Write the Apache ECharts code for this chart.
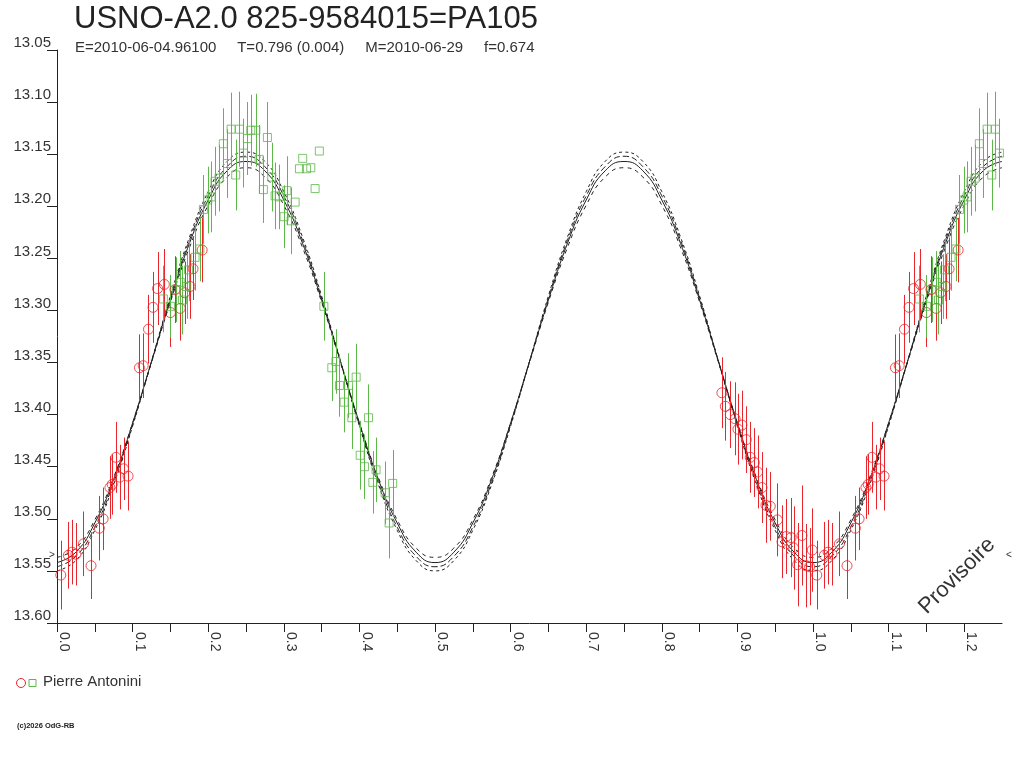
<!DOCTYPE html>
<html>
<head>
<meta charset="utf-8">
<title>USNO-A2.0 825-9584015=PA105</title>
<script src="https://cdn.jsdelivr.net/npm/echarts@6/dist/echarts.min.js"></script>
<style>
    html, body { margin: 0; padding: 0; background: #fff; }
    #chart { width: 1024px; height: 768px; }
</style>
</head>
<body>
<div id="chart"></div>
<script>
/* texts */
var titleText = 'USNO-A2.0 825-9584015=PA105';
var subText = 'E=2010-06-04.96100     T=0.796 (0.004)     M=2010-06-29     f=0.674';
var observer = 'Pierre Antonini';
var copyText = '(c)2026 OdG-RB';
var stampText = 'Provisoire';
var markMag = 13.535;

/* red circles: phase, magnitude, error */
var redPhase = [0.005, 0.015, 0.020, 0.025, 0.035, 0.045, 0.056, 0.061, 0.070, 0.073,
    0.078, 0.083, 0.088, 0.094, 0.109, 0.114, 0.121, 0.127, 0.133, 0.142,
    0.150, 0.156, 0.163, 0.169, 0.176, 0.180, 0.192,
    0.8795, 0.884, 0.8906, 0.897, 0.9007, 0.906, 0.9117, 0.917, 0.9223, 0.9267,
    0.9325, 0.9378, 0.9435, 0.953, 0.959, 0.9647, 0.971, 0.9744, 0.9797, 0.9854,
    0.991, 0.9955, 0.999];
var redMag = [13.554, 13.535, 13.532, 13.534, 13.524, 13.545, 13.509, 13.500, 13.470, 13.467,
    13.441, 13.460, 13.452, 13.459, 13.355, 13.353, 13.318, 13.297, 13.279, 13.275,
    13.302, 13.280, 13.298, 13.283, 13.277, 13.260, 13.242,
    13.379, 13.392, 13.400, 13.404, 13.414, 13.410, 13.424, 13.441, 13.446, 13.455,
    13.470, 13.487, 13.488, 13.501, 13.522, 13.517, 13.518, 13.528, 13.544, 13.516,
    13.545, 13.546, 13.530];
var redErr = [0.033, 0.032, 0.031, 0.030, 0.031, 0.032, 0.031, 0.030, 0.030, 0.029,
    0.034, 0.031, 0.030, 0.033, 0.032, 0.031, 0.033, 0.034, 0.035, 0.034,
    0.033, 0.032, 0.031, 0.030, 0.031, 0.030, 0.031,
    0.034, 0.033, 0.032, 0.035, 0.034, 0.033, 0.032, 0.034, 0.033, 0.035,
    0.034, 0.036, 0.033, 0.035, 0.035, 0.036, 0.038, 0.040, 0.040, 0.048,
    0.040, 0.037, 0.040];

/* green squares: phase, magnitude, error (0 = no bar) */
var greenPhase = [0.1407, 0.150, 0.1575, 0.163, 0.166, 0.1716, 0.174, 0.1826, 0.189, 0.1937,
    0.1994, 0.2038, 0.209, 0.2144, 0.220, 0.2254, 0.2303, 0.2364, 0.2413, 0.2466,
    0.2519, 0.2563, 0.263, 0.2673, 0.273, 0.2783, 0.284, 0.2885, 0.294, 0.3004,
    0.304, 0.3097, 0.315, 0.3207, 0.325, 0.330, 0.3357, 0.3414, 0.347, 0.353,
    0.3635, 0.369, 0.3736, 0.3798, 0.3855, 0.390, 0.3957, 0.401, 0.4067, 0.412,
    0.4178, 0.422, 0.434, 0.4393, 0.444];
var greenMag = [13.289, 13.296, 13.280, 13.273, 13.290, 13.277, 13.261, 13.249, 13.241, 13.203,
    13.194, 13.191, 13.176, 13.173, 13.140, 13.159, 13.126, 13.170, 13.126, 13.149,
    13.135, 13.127, 13.127, 13.155, 13.184, 13.134, 13.172, 13.190, 13.191, 13.210,
    13.185, 13.214, 13.196, 13.164, 13.154, 13.164, 13.163, 13.183, 13.147, 13.296,
    13.355, 13.349, 13.372, 13.388, 13.372, 13.403, 13.364, 13.439, 13.450, 13.403,
    13.465, 13.453, 13.475, 13.504, 13.466];
var greenErr = [0.032, 0.030, 0.031, 0.030, 0.033, 0.031, 0.030, 0.032, 0.031, 0.033,
    0.032, 0.034, 0.033, 0.032, 0.034, 0.033, 0.035, 0.034, 0.036, 0.033,
    0.035, 0.034, 0.035, 0.033, 0.032, 0.034, 0.033, 0.032, 0.031, 0.030,
    0.033, 0.032, 0, 0, 0, 0, 0, 0, 0, 0.033,
    0.032, 0.031, 0.030, 0.029, 0.031, 0.030, 0.032, 0.033, 0.031, 0.032,
    0.030, 0.031, 0.030, 0.034, 0.032];

/* fitted light curve and its envelopes, read every 0.025 in phase */
var curvePhase = [0.000, 0.025, 0.050, 0.075, 0.100, 0.125, 0.150, 0.175, 0.200, 0.225,
    0.250, 0.275, 0.300, 0.325, 0.350, 0.375, 0.400, 0.425, 0.450, 0.475,
    0.500, 0.525, 0.550, 0.575, 0.600, 0.625, 0.650, 0.675, 0.700, 0.725,
    0.750, 0.775, 0.800, 0.825, 0.850, 0.875, 0.900, 0.925, 0.950, 0.975,
    1.000, 1.025, 1.050, 1.075, 1.100, 1.125, 1.150, 1.175, 1.200, 1.225, 1.250];
var curveOuter = [13.550, 13.540, 13.511, 13.467, 13.411, 13.349, 13.286, 13.230, 13.186, 13.157,
    13.148, 13.157, 13.186, 13.230, 13.286, 13.349, 13.411, 13.467, 13.511, 13.540,
    13.550, 13.540, 13.511, 13.467, 13.411, 13.349, 13.286, 13.230, 13.186, 13.157,
    13.148, 13.157, 13.186, 13.230, 13.286, 13.349, 13.411, 13.467, 13.511, 13.540,
    13.550, 13.540, 13.511, 13.467, 13.411, 13.349, 13.286, 13.230, 13.186, 13.157, 13.148];
var curveUpper = [13.546, 13.536, 13.508, 13.465, 13.410, 13.349, 13.288, 13.233, 13.190, 13.162,
    13.152, 13.162, 13.190, 13.233, 13.288, 13.349, 13.410, 13.465, 13.508, 13.536,
    13.546, 13.536, 13.508, 13.465, 13.410, 13.349, 13.288, 13.233, 13.190, 13.162,
    13.152, 13.162, 13.190, 13.233, 13.288, 13.349, 13.410, 13.465, 13.508, 13.536,
    13.546, 13.536, 13.508, 13.465, 13.410, 13.349, 13.288, 13.233, 13.190, 13.162, 13.152];
var curveFit = [13.542, 13.532, 13.504, 13.462, 13.408, 13.349, 13.290, 13.236, 13.194, 13.166,
    13.157, 13.166, 13.194, 13.236, 13.290, 13.349, 13.408, 13.462, 13.504, 13.532,
    13.542, 13.532, 13.504, 13.462, 13.408, 13.349, 13.290, 13.236, 13.194, 13.166,
    13.157, 13.166, 13.194, 13.236, 13.290, 13.349, 13.408, 13.462, 13.504, 13.532,
    13.542, 13.532, 13.504, 13.462, 13.408, 13.349, 13.290, 13.236, 13.194, 13.166, 13.157];
var curveInner = [13.537, 13.528, 13.501, 13.460, 13.408, 13.350, 13.292, 13.240, 13.199, 13.172,
    13.163, 13.172, 13.199, 13.240, 13.292, 13.350, 13.408, 13.460, 13.501, 13.528,
    13.537, 13.528, 13.501, 13.460, 13.408, 13.350, 13.292, 13.240, 13.199, 13.172,
    13.163, 13.172, 13.199, 13.240, 13.292, 13.350, 13.408, 13.460, 13.501, 13.528,
    13.537, 13.528, 13.501, 13.460, 13.408, 13.350, 13.292, 13.240, 13.199, 13.172, 13.163];

var RED = '#e8262b';
var GREEN = '#5cb847';
var INK = '#222222';
var FONT = '"Liberation Sans", Arial, sans-serif';
var X_MAX = 1.25;

//phases below 0.25 are shown again one cycle later
function buildPoints(phase, mag, err) {
    var out = [];
    for (var i = 0; i < phase.length; i++) {
        out.push([phase[i], mag[i], err[i]]);
        if (phase[i] + 1 <= X_MAX) {
            out.push([phase[i] + 1, mag[i], err[i]]);
        }
    }
    return out;
}

function zipCurve(mag) {
    var out = [];
    for (var i = 0; i < curvePhase.length; i++) {
        out.push([curvePhase[i], mag[i]]);
    }
    return out;
}

function errorBars(name, points, color) {
    return {
        name: name,
        type: 'custom',
        clip: true,
        z: 3,
        data: points,
        renderItem: function (params, api) {
            var e = api.value(2);
            if (!e) {
                return;
            }
            var p1 = api.coord([api.value(0), api.value(1) - e]);
            var p2 = api.coord([api.value(0), api.value(1) + e]);
            var x = Math.round(p1[0]) + 0.5;
            return {
                type: 'line',
                shape: {x1: x, y1: p1[1], x2: x, y2: p2[1]},
                style: {stroke: color, lineWidth: 1}
            };
        }
    };
}

function curveLine(mag, dash) {
    return {
        type: 'line',
        data: zipCurve(mag),
        smooth: true,
        showSymbol: false,
        silent: true,
        z: 2,
        lineStyle: {color: INK, width: 1, type: dash}
    };
}

var redPoints = buildPoints(redPhase, redMag, redErr);
var greenPoints = buildPoints(greenPhase, greenMag, greenErr);

var chart = echarts.init(document.getElementById('chart'));
var option = {
    animation: false,
    backgroundColor: '#ffffff',
    textStyle: {fontFamily: FONT},
    grid: {left: 57, right: 22, top: 50, bottom: 145},
    xAxis: {
        type: 'value',
        min: 0,
        max: X_MAX,
        interval: 0.05,
        splitLine: {show: false},
        axisLine: {onZero: false, lineStyle: {color: INK, width: 1}},
        axisTick: {length: 9, lineStyle: {color: INK}},
        axisLabel: {
            rotate: -90,
            margin: 9,
            verticalAlign: 'bottom',
            fontSize: 14,
            color: '#333',
            fontFamily: FONT,
            showMaxLabel: false,
            formatter: function (v) {
                var k = Math.round(v * 100);
                return k % 10 === 0 ? (k / 100).toFixed(1) : '';
            }
        }
    },
    yAxis: {
        type: 'value',
        inverse: true,
        min: 13.05,
        max: 13.60,
        interval: 0.05,
        splitLine: {show: false},
        axisLine: {show: true, onZero: false, lineStyle: {color: INK, width: 1}},
        axisTick: {show: true, length: 10, lineStyle: {color: INK}},
        axisLabel: {
            margin: 6,
            verticalAlign: 'bottom',
            lineHeight: 14,
            fontSize: 15,
            color: '#333',
            fontFamily: FONT,
            formatter: function (v) { return v.toFixed(2); }
        }
    },
    series: [
        curveLine(curveOuter, [3, 3]),
        curveLine(curveUpper, [6, 3]),
        curveLine(curveFit, 'solid'),
        curveLine(curveInner, [4, 4]),
        errorBars('redErr', redPoints, RED),
        errorBars('greenErr', greenPoints, GREEN),
        {
            name: observer,
            type: 'scatter',
            data: redPoints,
            symbol: 'circle',
            symbolSize: 10,
            z: 4,
            itemStyle: {color: 'rgba(0,0,0,0)', borderColor: RED, borderWidth: 1}
        },
        {
            name: observer + ' ',
            type: 'scatter',
            data: greenPoints,
            symbol: 'rect',
            symbolSize: 8,
            z: 4,
            itemStyle: {color: 'rgba(0,0,0,0)', borderColor: GREEN, borderWidth: 1}
        }
    ],
    graphic: [
        {type: 'text', id: 'title', left: 74, top: 4,
            style: {text: titleText, font: '31px ' + FONT, fill: INK}},
        {type: 'text', id: 'sub', left: 75, top: 40,
            style: {text: subText, font: '15px ' + FONT, fill: '#333'}},
        {type: 'circle', id: 'legC', shape: {cx: 21, cy: 683, r: 4.5},
            style: {fill: 'none', stroke: RED, lineWidth: 1}},
        {type: 'rect', id: 'legR', shape: {x: 29, y: 679.5, width: 7, height: 7},
            style: {fill: 'none', stroke: GREEN, lineWidth: 1}},
        {type: 'text', id: 'legT', left: 43, top: 674,
            style: {text: observer, font: '15px ' + FONT, fill: '#333'}},
        {type: 'text', id: 'copy', left: 17, top: 722,
            style: {text: copyText, font: 'bold 7.5px ' + FONT, fill: '#222'}},
        {type: 'text', id: 'stamp', x: 957, y: 576, rotation: Math.PI / 4,
            style: {text: stampText, font: '22px ' + FONT, fill: '#333',
                align: 'center', verticalAlign: 'middle'}}
    ]
};
chart.setOption(option);

//small level marks at both ends of the axis
var leftMark = chart.convertToPixel({gridIndex: 0}, [0, markMag]);
var rightMark = chart.convertToPixel({gridIndex: 0}, [X_MAX, markMag]);
chart.setOption({
    graphic: [
        {type: 'text', id: 'markL', x: leftMark[0] - 5, y: leftMark[1],
            style: {text: '>', font: '10px ' + FONT, fill: '#333',
                align: 'center', verticalAlign: 'middle'}},
        {type: 'text', id: 'markR', x: rightMark[0] + 7, y: rightMark[1],
            style: {text: '<', font: '10px ' + FONT, fill: '#333',
                align: 'center', verticalAlign: 'middle'}}
    ]
});
</script>
</body>
</html>
